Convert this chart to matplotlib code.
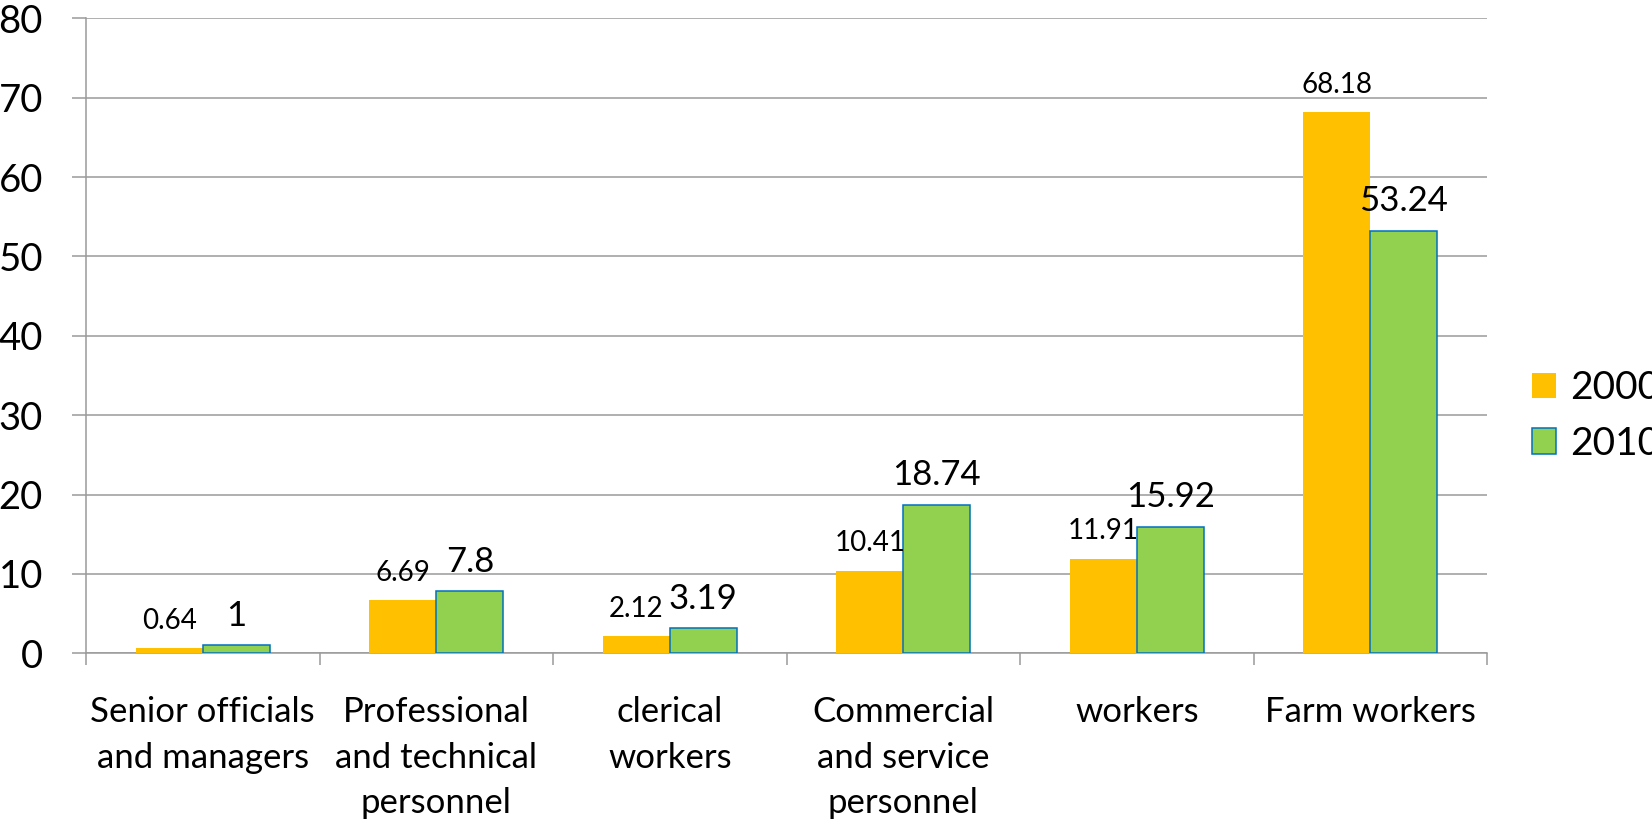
import numpy as np
import matplotlib
matplotlib.use("Agg")
import matplotlib.pyplot as plt
from matplotlib.ticker import FixedLocator, NullFormatter

categories = ["Senior officials\nand managers", "Professional\nand technical\npersonnel",
              "clerical\nworkers", "Commercial\nand service\npersonnel", "workers", "Farm workers"]
vals_2000 = [0.64, 6.69, 2.12, 10.41, 11.91, 68.18]
vals_2010 = [1, 7.8, 3.19, 18.74, 15.92, 53.24]
labels_2000 = ["0.64", "6.69", "2.12", "10.41", "11.91", "68.18"]
labels_2010 = ["1", "7.8", "3.19", "18.74", "15.92", "53.24"]
series_names = ["2000", "2010"]
yticks = [0, 10, 20, 30, 40, 50, 60, 70, 80]

plt.rcParams['font.family'] = ['Lato', 'DejaVu Sans']

W, H = 1652, 821
fig = plt.figure(figsize=(W / 100, H / 100), dpi=100)
ax = fig.add_axes([86 / W, 1 - 653.3 / H, (1487 - 86) / W, (653.3 - 18.3) / H])

x = np.arange(len(categories))
bw = 0.287
grid_c = "#9a9a9a"
b1 = ax.bar(x - bw / 2, vals_2000, bw, color="#FFC000", edgecolor="none", label=series_names[0], zorder=3)
b2 = ax.bar(x + bw / 2, vals_2010, bw, color="#92D050", edgecolor="#0070C0", linewidth=1.1,
            label=series_names[1], zorder=3)

for xi, v, t in zip(x, vals_2000, labels_2000):
    ax.annotate(t, (xi - bw / 2, v), xytext=(0, 14), textcoords="offset points",
                ha="center", va="baseline", fontsize=20, color="black")
for xi, v, t in zip(x, vals_2010, labels_2010):
    ax.annotate(t, (xi + bw / 2, v), xytext=(0, 14), textcoords="offset points",
                ha="center", va="baseline", fontsize=25, color="black")

ax.set_xlim(-0.5, len(categories) - 0.5)
ax.set_ylim(0, 80)
ax.set_yticks(yticks)
ax.set_yticklabels([str(t) for t in yticks], fontsize=27.5)
ax.yaxis.grid(True, color=grid_c, linewidth=1.1, zorder=0)
ax.set_axisbelow(True)

ax.xaxis.set_major_locator(FixedLocator(np.arange(len(categories) + 1) - 0.5))
ax.xaxis.set_major_formatter(NullFormatter())
ax.set_xticks(x, minor=True)
ax.set_xticklabels(categories, minor=True, fontsize=25, linespacing=1.52)
ax.tick_params(axis="x", which="major", length=8.6, width=1.1, color=grid_c, direction="out")
ax.tick_params(axis="x", which="minor", length=0, pad=31)
ax.tick_params(axis="y", length=10, width=1.1, color=grid_c, pad=21)

for s in ["top", "right"]:
    ax.spines[s].set_visible(False)
for s in ["left", "bottom"]:
    ax.spines[s].set_color(grid_c)
    ax.spines[s].set_linewidth(1.1)

fig.legend(handles=[b1, b2], labels=series_names, loc="center left",
           bbox_to_anchor=(1532 / W, 1 - 416 / H), frameon=False, fontsize=28,
           handlelength=0.62, handleheight=0.62, handletextpad=0.35, labelspacing=0.5,
           borderpad=0, borderaxespad=0)

fig.savefig("out.png", dpi=100, facecolor="white")
